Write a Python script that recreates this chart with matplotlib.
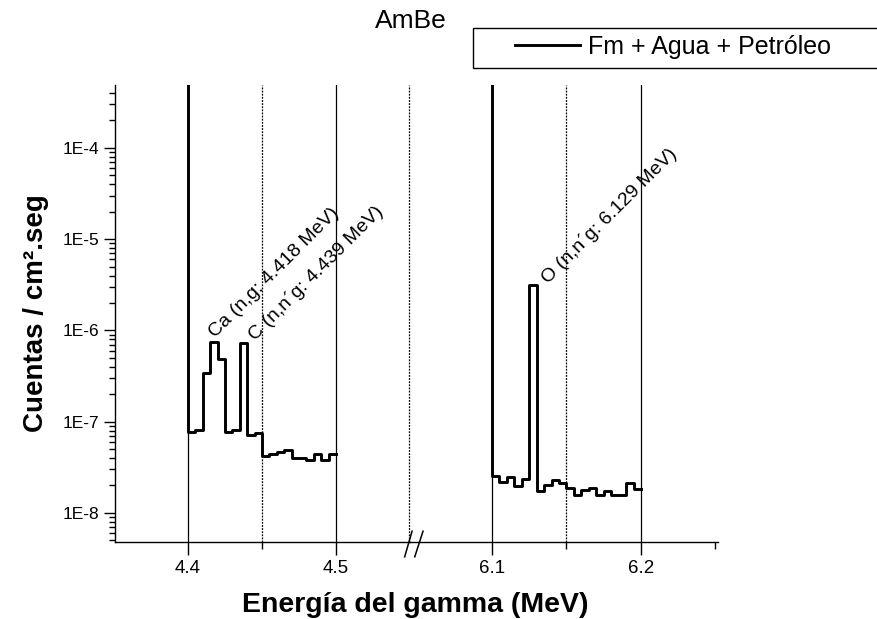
import numpy as np
import matplotlib
matplotlib.use("Agg")
import matplotlib.pyplot as plt
from matplotlib.patches import Rectangle
from matplotlib.lines import Line2D
from matplotlib.ticker import FixedLocator, FuncFormatter, LogLocator, NullFormatter

plt.rcParams['font.family'] = ['Liberation Sans', 'DejaVu Sans']

# spectrum bins (left edges, MeV) and counts per bin
e_left = [4.400, 4.405, 4.410, 4.415, 4.420, 4.425, 4.430, 4.435, 4.440, 4.445,
          4.450, 4.455, 4.460, 4.465, 4.470, 4.475, 4.480, 4.485, 4.490, 4.495, 4.500]
c_left = [7.8e-8, 8.2e-8, 3.4e-7, 7.4e-7, 4.9e-7, 7.8e-8, 8.2e-8, 7.2e-7, 7.2e-8, 7.5e-8,
          4.2e-8, 4.45e-8, 4.6e-8, 4.85e-8, 4.0e-8, 4.0e-8, 3.77e-8, 4.45e-8, 3.77e-8, 4.45e-8]

e_right = [6.100, 6.105, 6.110, 6.115, 6.120, 6.125, 6.130, 6.135, 6.140, 6.145,
           6.150, 6.155, 6.160, 6.165, 6.170, 6.175, 6.180, 6.185, 6.190, 6.195, 6.200]
c_right = [2.56e-8, 2.16e-8, 2.5e-8, 1.99e-8, 2.36e-8, 3.17e-6, 1.75e-8, 2.04e-8, 2.31e-8, 2.15e-8,
           1.89e-8, 1.56e-8, 1.8e-8, 1.89e-8, 1.58e-8, 1.72e-8, 1.58e-8, 1.58e-8, 2.15e-8, 1.85e-8]
lead_value = 1.0  # first channel is far off scale

labels = [
    ("Ca (n,g: 4.418 MeV)", 4.4185, 8.3e-7, 0),
    ("C (n,n´g: 4.439 MeV)", 4.4452, 7.6e-7, 0),
    ("O (n,n´g: 6.129 MeV)", 6.138, 3.2e-6, 1),
]

left_major = [4.4, 4.5]
left_minor = [4.35, 4.45]
right_major = [6.1, 6.2]
right_minor = [6.15, 6.25]

fig = plt.figure(figsize=(8.77, 6.19), dpi=100)
ax1 = fig.add_axes([0.1311, 0.1244, 0.3364, 0.7383])
ax2 = fig.add_axes([0.4675, 0.1244, 0.3512, 0.7383], sharey=ax1)

ylim = (4.8e-9, 4.9e-4)
dotted = (0, (1.5, 1))

for ax, edges, counts, xlim, major, minor in [
        (ax1, e_left, c_left, (4.3507, 4.55), left_major, left_minor),
        (ax2, e_right, c_right, (6.045, 6.2517), right_major, right_minor)]:
    ax.patch.set_visible(False)
    xs = [edges[0]] + list(edges)
    ys = [lead_value] + list(counts) + [counts[-1]]
    ax.step(xs, ys, where='post', color='black', lw=2.1, zorder=3)
    for x in major:
        ax.axvline(x, color='black', lw=0.9, zorder=1)
    for x in minor:
        if xlim[0] + 0.01 < x < xlim[1] - 0.01:
            ax.axvline(x, color='black', lw=0.9, ls=dotted, zorder=1)
    ax.set_xlim(*xlim)
    ax.set_yscale('log')
    ax.set_ylim(*ylim)
    ax.xaxis.set_major_locator(FixedLocator(major))
    ax.xaxis.set_minor_locator(FixedLocator(minor))
    ax.xaxis.set_major_formatter(FuncFormatter(lambda v, p: f"{v:.1f}"))
    ax.tick_params(axis='x', which='major', direction='out', length=9, width=1, labelsize=13.5, pad=4)
    ax.tick_params(axis='x', which='minor', direction='out', length=5, width=1)
    for s in ['top', 'right']:
        ax.spines[s].set_visible(False)
    ax.spines['bottom'].set_linewidth(1)

# dotted line at the axis break
ax1.axvline(4.5494, color='black', lw=0.9, ls=dotted, zorder=1, clip_on=False)

ax1.yaxis.set_major_locator(LogLocator(base=10, numticks=20))
ax1.yaxis.set_minor_locator(LogLocator(base=10, subs=np.arange(2, 10), numticks=20))
ax1.yaxis.set_major_formatter(FuncFormatter(lambda v, p: f"1E{int(round(np.log10(v)))}"))
ax1.yaxis.set_minor_formatter(NullFormatter())
ax1.tick_params(axis='y', which='major', direction='out', length=8, width=1, labelsize=12.5, pad=3)
ax1.tick_params(axis='y', which='minor', direction='out', length=4, width=1)
ax1.spines['left'].set_linewidth(1)

ax2.spines['left'].set_visible(False)
ax2.tick_params(axis='y', which='both', left=False, labelleft=False)

# break marks
for x0, x1 in [(4.5464, 4.5514), (4.5532, 4.5588)]:
    ax1.plot([x0, x1], [3.3e-9, 6.3e-9], color='black', lw=1.1, clip_on=False, zorder=5)

for text, x, y, which in labels:
    ax = ax1 if which == 0 else ax2
    ax.text(x, y, text, rotation=45, rotation_mode='anchor', ha='left', va='baseline',
            fontsize=14, zorder=4)

ax1.set_ylabel("Cuentas / cm².seg", fontsize=20, fontweight='bold', labelpad=10)
fig.text(0.473, 0.012, "Energía del gamma (MeV)", fontsize=20.5, fontweight='bold', ha='center', va='baseline')
fig.text(0.468, 0.955, "AmBe", fontsize=19, ha='center', va='baseline')

# legend box running off the right edge
fig.patches.append(Rectangle((473 / 877, 1 - 68 / 619), 0.5, 40 / 619, transform=fig.transFigure,
                             fill=False, edgecolor='black', lw=1))
fig.legend([Line2D([], [], color='black', lw=2.1)], ["Fm + Agua + Petróleo"],
           loc='center left', bbox_to_anchor=(515 / 877, 1 - 47 / 619), frameon=False,
           fontsize=18, handlelength=2.6, handletextpad=0.33, borderpad=0, borderaxespad=0)

fig.savefig("out.png", dpi=100)
